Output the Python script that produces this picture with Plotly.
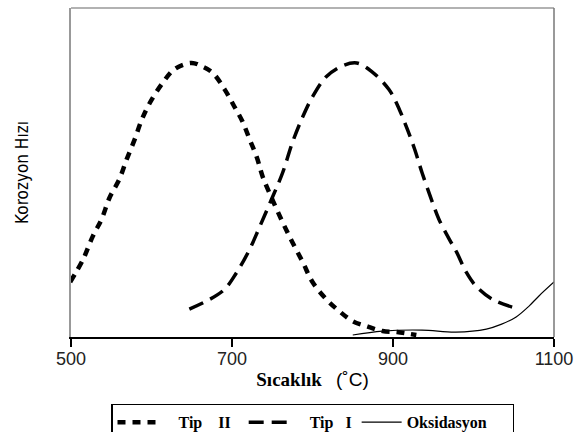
import plotly.graph_objects as go

# Tip II (short thick dashes)
tip2_x = [499, 515, 527, 538, 548, 560, 569, 579, 588, 598, 614, 629, 650, 664, 676, 691, 703, 713, 722, 731,
          738, 749, 763, 775, 788, 800, 817, 833, 850, 867, 887, 905, 929]
tip2_y = [0.167, 0.236, 0.306, 0.358, 0.424, 0.479, 0.539, 0.600, 0.661, 0.712, 0.773, 0.815, 0.833, 0.821, 0.803,
          0.752, 0.700, 0.655, 0.600, 0.545, 0.488, 0.424, 0.348, 0.288, 0.227, 0.167, 0.115, 0.079, 0.048, 0.033,
          0.018, 0.015, 0.006]

# Tip I (long dashes)
tip1_x = [647, 688, 706, 722, 734, 749, 763, 775, 788, 800, 817, 837, 855, 874, 895, 908, 918, 927, 936, 949,
          957, 970, 979, 991, 1003, 1023, 1048]
tip1_y = [0.085, 0.139, 0.197, 0.267, 0.333, 0.418, 0.500, 0.591, 0.670, 0.730, 0.791, 0.824, 0.833, 0.806,
          0.752, 0.691, 0.630, 0.570, 0.500, 0.409, 0.358, 0.297, 0.258, 0.197, 0.155, 0.115, 0.091]

# Oksidasyon (thin solid)
oks_x = [850, 887, 936, 978, 1016, 1035, 1053, 1069, 1081, 1100]
oks_y = [0.006, 0.018, 0.021, 0.015, 0.024, 0.039, 0.061, 0.094, 0.124, 0.167]

x_ticks = [500, 700, 900, 1100]

serif_bold = "Liberation Serif, Times New Roman, serif"
NB = "\u00a0"

fig = go.Figure()
fig.add_trace(go.Scatter(x=tip2_x, y=tip2_y, mode="lines", name=f"<b>{NB*4}Tip{NB*4}II{NB*2}</b>",
                         line=dict(color="black", width=4.5, dash="8px,7px", shape="spline")))
fig.add_trace(go.Scatter(x=tip1_x, y=tip1_y, mode="lines", name=f"<b>{NB*4}Tip{NB*3}I</b>",
                         line=dict(color="black", width=3.5, dash="15px,8px", shape="spline")))
fig.add_trace(go.Scatter(x=oks_x, y=oks_y, mode="lines", name=f"<b>Oksidasyon{NB*5}</b>",
                         line=dict(color="black", width=1.2, shape="spline")))

fig.update_layout(
    width=581, height=432,
    margin=dict(l=71, r=27, t=8, b=95, autoexpand=False),
    paper_bgcolor="white", plot_bgcolor="white",
    showlegend=True,
    legend=dict(orientation="h", x=(111 - 71) / 483, y=-0.203, xanchor="left", yanchor="top",
                bordercolor="black", borderwidth=1.5,
                font=dict(family=serif_bold, size=16, color="black"),
                itemwidth=40, tracegroupgap=0),
    xaxis=dict(range=[500, 1100], tickvals=x_ticks, ticktext=[str(v) for v in x_ticks],
               showgrid=False, zeroline=False, showline=True, linecolor="black", linewidth=1.5,
               ticks="outside", ticklen=8, tickwidth=1.5, tickcolor="black", ticklabelstandoff=-3,
               tickfont=dict(family="Liberation Sans, Arial, sans-serif", size=18, color="#222"),
               title=dict(text="<b>Sıcaklık</b>" + NB * 3 +
                          "<span style='font-family:Liberation Sans, Arial, sans-serif'>(˚C)</span>",
                          standoff=4,
                          font=dict(family=serif_bold, size=19, color="black"))),
    yaxis=dict(range=[0, 1], showgrid=False, zeroline=False, showticklabels=False,
               showline=True, linecolor="#999", linewidth=1.5, mirror=False,
               title=dict(text="Korozyon Hızı", standoff=36,
                          font=dict(family="DejaVu Sans Condensed, Liberation Sans Narrow, Arial Narrow, sans-serif",
                                    size=17, color="black"))),
)
# frame (top and right border)
fig.add_shape(type="line", xref="paper", yref="paper", x0=0, x1=1, y0=1, y1=1,
              line=dict(color="#999", width=1.5))
fig.add_shape(type="line", xref="paper", yref="paper", x0=1, x1=1, y0=0, y1=1,
              line=dict(color="#777", width=1.5))

fig.write_html("out.html")
